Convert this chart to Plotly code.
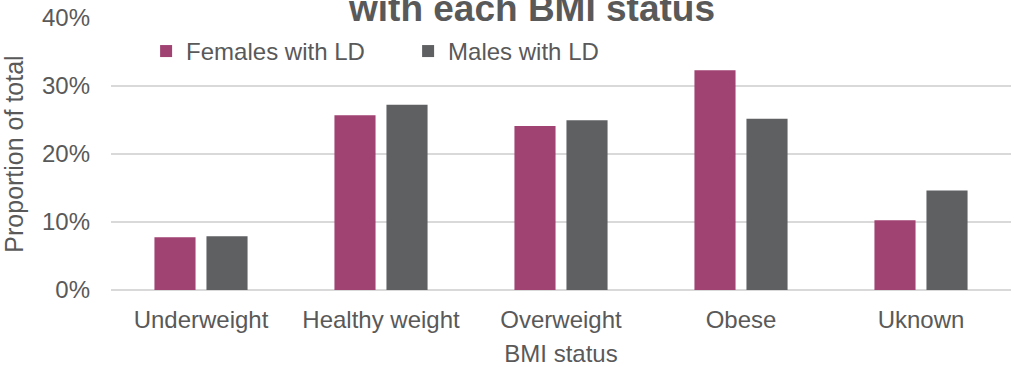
import plotly.graph_objects as go

categories = ["Underweight", "Healthy weight", "Overweight", "Obese", "Uknown"]
females_ld = [0.0775, 0.257, 0.241, 0.323, 0.1025]
males_ld = [0.079, 0.2725, 0.2495, 0.252, 0.1465]
y_ticks = [0, 0.1, 0.2, 0.3, 0.4]
y_tick_labels = ["0%", "10%", "20%", "30%", "40%"]

TEXT = "#595959"
FONT = "Liberation Sans, Arial, sans-serif"

fig = go.Figure()
fig.add_trace(go.Bar(name="Females with LD", x=categories, y=females_ld,
                     marker=dict(color="#A04272", line=dict(width=0))))
fig.add_trace(go.Bar(name="Males with LD", x=categories, y=males_ld,
                     marker=dict(color="#5F6062", line=dict(width=0))))

fig.update_layout(
    width=1020, height=367,
    margin=dict(l=111, r=9, t=17.5, b=77, autoexpand=False),
    paper_bgcolor="white", plot_bgcolor="white",
    font=dict(family=FONT, size=24, color=TEXT),
    barmode="group", bargap=0.422, bargroupgap=0.21,
    showlegend=True,
    legend=dict(orientation="h", x=0.039, y=0.877, xanchor="left", yanchor="middle",
                font=dict(size=24, color=TEXT), entrywidth=217, entrywidthmode="pixels",
                bgcolor="rgba(0,0,0,0)", itemclick=False),
    xaxis=dict(title=dict(text="BMI status", font=dict(size=24, color=TEXT), standoff=18),
               showgrid=False, zeroline=False, showline=False, ticks="", automargin=False,
               ticklabelstandoff=13, tickfont=dict(size=24, color=TEXT)),
    yaxis=dict(title=dict(text="Proportion of total", font=dict(size=25, color=TEXT), standoff=16),
               range=[0, 0.4], tickvals=y_ticks, ticktext=y_tick_labels, automargin=False,
               showgrid=True, gridcolor="#D9D9D9", gridwidth=1.5,
               zeroline=True, zerolinecolor="#D9D9D9", zerolinewidth=1.5,
               showline=False, ticks="", ticklabelstandoff=20,
               tickfont=dict(size=24, color=TEXT)),
    annotations=[dict(text="<b>with each BMI status</b>", xref="paper", yref="paper",
                      x=0.4667, y=1.0, xanchor="center", yanchor="bottom", yshift=-13.5,
                      showarrow=False, font=dict(size=37, color=TEXT, family=FONT))],
)

fig.write_html("out.html")
